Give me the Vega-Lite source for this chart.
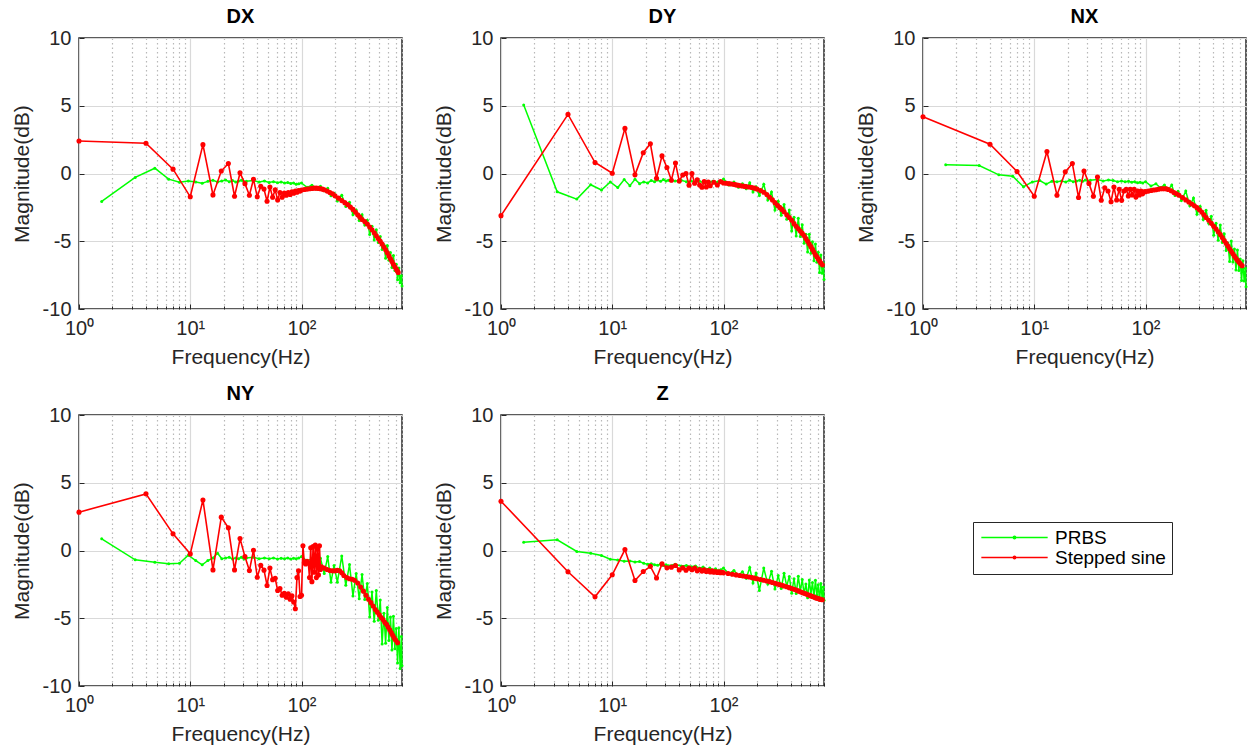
{
"$schema": "https://vega.github.io/schema/vega-lite/v6.json",
"padding": {"left": 10, "top": 6, "right": 0, "bottom": 0},
"background": "white",
"data": {"values": [
{"p":"DX","s":"PRBS","f":1.6,"m":-2.06},{"p":"DX","s":"PRBS","f":3.2,"m":-0.29},{"p":"DX","s":"PRBS","f":4.8,"m":0.39},{"p":"DX","s":"PRBS","f":6.4,"m":-0.42},{"p":"DX","s":"PRBS","f":8,"m":-0.65},{"p":"DX","s":"PRBS","f":9.6,"m":-0.55},{"p":"DX","s":"PRBS","f":11.2,"m":-0.62},{"p":"DX","s":"PRBS","f":12.8,"m":-0.72},{"p":"DX","s":"PRBS","f":14.4,"m":-0.58},{"p":"DX","s":"PRBS","f":16,"m":-0.5},{"p":"DX","s":"PRBS","f":17.6,"m":-0.62},{"p":"DX","s":"PRBS","f":19.2,"m":-0.55},{"p":"DX","s":"PRBS","f":20.8,"m":-0.48},{"p":"DX","s":"PRBS","f":22.4,"m":-0.6},{"p":"DX","s":"PRBS","f":24,"m":-0.52},{"p":"DX","s":"PRBS","f":25.6,"m":-0.63},{"p":"DX","s":"PRBS","f":27.2,"m":-0.55},{"p":"DX","s":"PRBS","f":28.8,"m":-0.5},{"p":"DX","s":"PRBS","f":30.4,"m":-0.6},{"p":"DX","s":"PRBS","f":32,"m":-0.58},{"p":"DX","s":"PRBS","f":36.8,"m":-0.52},{"p":"DX","s":"PRBS","f":41.6,"m":-0.62},{"p":"DX","s":"PRBS","f":46.4,"m":-0.56},{"p":"DX","s":"PRBS","f":51.2,"m":-0.66},{"p":"DX","s":"PRBS","f":56,"m":-0.6},{"p":"DX","s":"PRBS","f":60.8,"m":-0.68},{"p":"DX","s":"PRBS","f":65.6,"m":-0.62},{"p":"DX","s":"PRBS","f":70.4,"m":-0.7},{"p":"DX","s":"PRBS","f":75.2,"m":-0.66},{"p":"DX","s":"PRBS","f":80,"m":-0.74},{"p":"DX","s":"PRBS","f":84.8,"m":-0.7},{"p":"DX","s":"PRBS","f":89.6,"m":-0.8},{"p":"DX","s":"PRBS","f":94.4,"m":-0.76},
{"p":"DX","s":"PRBS","f":100,"m":-0.7},{"p":"DX","s":"PRBS","f":112,"m":-1.02},{"p":"DX","s":"PRBS","f":124,"m":-0.86},{"p":"DX","s":"PRBS","f":136,"m":-1.15},{"p":"DX","s":"PRBS","f":148,"m":-0.95},{"p":"DX","s":"PRBS","f":160,"m":-1.28},{"p":"DX","s":"PRBS","f":172,"m":-1.08},{"p":"DX","s":"PRBS","f":184,"m":-1.65},{"p":"DX","s":"PRBS","f":196,"m":-1.45},{"p":"DX","s":"PRBS","f":210,"m":-2.03},{"p":"DX","s":"PRBS","f":230,"m":-1.6},{"p":"DX","s":"PRBS","f":250,"m":-2.44},{"p":"DX","s":"PRBS","f":270,"m":-2.13},{"p":"DX","s":"PRBS","f":290,"m":-3.05},{"p":"DX","s":"PRBS","f":310,"m":-2.7},{"p":"DX","s":"PRBS","f":330,"m":-3.47},{"p":"DX","s":"PRBS","f":350,"m":-3.04},{"p":"DX","s":"PRBS","f":370,"m":-3.8},{"p":"DX","s":"PRBS","f":390,"m":-3.45},{"p":"DX","s":"PRBS","f":410,"m":-4.5},{"p":"DX","s":"PRBS","f":430,"m":-3.9},{"p":"DX","s":"PRBS","f":450,"m":-4.9},{"p":"DX","s":"PRBS","f":470,"m":-4.15},{"p":"DX","s":"PRBS","f":490,"m":-5.1},{"p":"DX","s":"PRBS","f":510,"m":-4.65},{"p":"DX","s":"PRBS","f":530,"m":-5.6},{"p":"DX","s":"PRBS","f":550,"m":-5.25},{"p":"DX","s":"PRBS","f":570,"m":-6.25},{"p":"DX","s":"PRBS","f":590,"m":-5.31},{"p":"DX","s":"PRBS","f":610,"m":-6.41},{"p":"DX","s":"PRBS","f":630,"m":-5.83},{"p":"DX","s":"PRBS","f":650,"m":-6.93},{"p":"DX","s":"PRBS","f":670,"m":-6.05},{"p":"DX","s":"PRBS","f":690,"m":-7.15},{"p":"DX","s":"PRBS","f":710,"m":-6.69},{"p":"DX","s":"PRBS","f":730,"m":-7.85},{"p":"DX","s":"PRBS","f":750,"m":-6.97},{"p":"DX","s":"PRBS","f":770,"m":-8.07},{"p":"DX","s":"PRBS","f":790,"m":-7.55},{"p":"DX","s":"PRBS","f":800,"m":-8.3},
{"p":"DY","s":"PRBS","f":1.6,"m":5.05},{"p":"DY","s":"PRBS","f":3.2,"m":-1.35},{"p":"DY","s":"PRBS","f":4.8,"m":-1.89},{"p":"DY","s":"PRBS","f":6.4,"m":-0.83},{"p":"DY","s":"PRBS","f":8,"m":-1.22},{"p":"DY","s":"PRBS","f":9.6,"m":-0.62},{"p":"DY","s":"PRBS","f":11.2,"m":-1.04},{"p":"DY","s":"PRBS","f":12.8,"m":-0.45},{"p":"DY","s":"PRBS","f":14.4,"m":-0.9},{"p":"DY","s":"PRBS","f":16,"m":-0.43},{"p":"DY","s":"PRBS","f":17.6,"m":-0.75},{"p":"DY","s":"PRBS","f":19.2,"m":-0.62},{"p":"DY","s":"PRBS","f":20.8,"m":-0.7},{"p":"DY","s":"PRBS","f":22.4,"m":-0.52},{"p":"DY","s":"PRBS","f":24,"m":-0.6},{"p":"DY","s":"PRBS","f":25.6,"m":-0.48},{"p":"DY","s":"PRBS","f":27.2,"m":-0.58},{"p":"DY","s":"PRBS","f":28.8,"m":-0.45},{"p":"DY","s":"PRBS","f":30.4,"m":-0.55},{"p":"DY","s":"PRBS","f":32,"m":-0.5},{"p":"DY","s":"PRBS","f":36.8,"m":-0.55},{"p":"DY","s":"PRBS","f":41.6,"m":-0.5},{"p":"DY","s":"PRBS","f":46.4,"m":-0.6},{"p":"DY","s":"PRBS","f":51.2,"m":-0.55},{"p":"DY","s":"PRBS","f":56,"m":-0.62},{"p":"DY","s":"PRBS","f":60.8,"m":-0.58},{"p":"DY","s":"PRBS","f":65.6,"m":-0.66},{"p":"DY","s":"PRBS","f":70.4,"m":-0.6},{"p":"DY","s":"PRBS","f":75.2,"m":-0.65},{"p":"DY","s":"PRBS","f":80,"m":-0.58},{"p":"DY","s":"PRBS","f":84.8,"m":-0.66},{"p":"DY","s":"PRBS","f":89.6,"m":-0.6},{"p":"DY","s":"PRBS","f":94.4,"m":-0.65},
{"p":"DY","s":"PRBS","f":100,"m":-0.4},{"p":"DY","s":"PRBS","f":112,"m":-0.84},{"p":"DY","s":"PRBS","f":124,"m":-0.63},{"p":"DY","s":"PRBS","f":136,"m":-1.02},{"p":"DY","s":"PRBS","f":148,"m":-0.76},{"p":"DY","s":"PRBS","f":160,"m":-1.13},{"p":"DY","s":"PRBS","f":172,"m":-0.69},{"p":"DY","s":"PRBS","f":184,"m":-1.37},{"p":"DY","s":"PRBS","f":196,"m":-0.98},{"p":"DY","s":"PRBS","f":210,"m":-1.62},{"p":"DY","s":"PRBS","f":230,"m":-0.8},{"p":"DY","s":"PRBS","f":250,"m":-1.96},{"p":"DY","s":"PRBS","f":270,"m":-1.37},{"p":"DY","s":"PRBS","f":290,"m":-2.7},{"p":"DY","s":"PRBS","f":310,"m":-2.05},{"p":"DY","s":"PRBS","f":330,"m":-3.08},{"p":"DY","s":"PRBS","f":350,"m":-2.28},{"p":"DY","s":"PRBS","f":370,"m":-3.37},{"p":"DY","s":"PRBS","f":390,"m":-2.69},{"p":"DY","s":"PRBS","f":410,"m":-4.25},{"p":"DY","s":"PRBS","f":430,"m":-3.22},{"p":"DY","s":"PRBS","f":450,"m":-4.62},{"p":"DY","s":"PRBS","f":470,"m":-3.3},{"p":"DY","s":"PRBS","f":490,"m":-4.65},{"p":"DY","s":"PRBS","f":510,"m":-3.78},{"p":"DY","s":"PRBS","f":530,"m":-5.14},{"p":"DY","s":"PRBS","f":550,"m":-4.48},{"p":"DY","s":"PRBS","f":570,"m":-5.8},{"p":"DY","s":"PRBS","f":590,"m":-4.48},{"p":"DY","s":"PRBS","f":610,"m":-5.88},{"p":"DY","s":"PRBS","f":630,"m":-5.04},{"p":"DY","s":"PRBS","f":650,"m":-6.44},{"p":"DY","s":"PRBS","f":670,"m":-5.2},{"p":"DY","s":"PRBS","f":690,"m":-6.55},{"p":"DY","s":"PRBS","f":710,"m":-5.82},{"p":"DY","s":"PRBS","f":730,"m":-7.3},{"p":"DY","s":"PRBS","f":750,"m":-6.01},{"p":"DY","s":"PRBS","f":770,"m":-7.36},{"p":"DY","s":"PRBS","f":790,"m":-6.6},{"p":"DY","s":"PRBS","f":800,"m":-7.82},
{"p":"NX","s":"PRBS","f":1.6,"m":0.64},{"p":"NX","s":"PRBS","f":3.2,"m":0.59},{"p":"NX","s":"PRBS","f":4.8,"m":-0.1},{"p":"NX","s":"PRBS","f":6.4,"m":-0.2},{"p":"NX","s":"PRBS","f":8,"m":-0.98},{"p":"NX","s":"PRBS","f":9.6,"m":-0.62},{"p":"NX","s":"PRBS","f":11.2,"m":-0.52},{"p":"NX","s":"PRBS","f":12.8,"m":-0.78},{"p":"NX","s":"PRBS","f":14.4,"m":-0.58},{"p":"NX","s":"PRBS","f":16,"m":-0.6},{"p":"NX","s":"PRBS","f":17.6,"m":-0.55},{"p":"NX","s":"PRBS","f":19.2,"m":-0.62},{"p":"NX","s":"PRBS","f":20.8,"m":-0.5},{"p":"NX","s":"PRBS","f":22.4,"m":-0.6},{"p":"NX","s":"PRBS","f":24,"m":-0.55},{"p":"NX","s":"PRBS","f":25.6,"m":-0.5},{"p":"NX","s":"PRBS","f":27.2,"m":-0.58},{"p":"NX","s":"PRBS","f":28.8,"m":-0.48},{"p":"NX","s":"PRBS","f":30.4,"m":-0.55},{"p":"NX","s":"PRBS","f":32,"m":-0.5},{"p":"NX","s":"PRBS","f":36.8,"m":-0.45},{"p":"NX","s":"PRBS","f":41.6,"m":-0.55},{"p":"NX","s":"PRBS","f":46.4,"m":-0.48},{"p":"NX","s":"PRBS","f":51.2,"m":-0.52},{"p":"NX","s":"PRBS","f":56,"m":-0.6},{"p":"NX","s":"PRBS","f":60.8,"m":-0.55},{"p":"NX","s":"PRBS","f":65.6,"m":-0.6},{"p":"NX","s":"PRBS","f":70.4,"m":-0.58},{"p":"NX","s":"PRBS","f":75.2,"m":-0.65},{"p":"NX","s":"PRBS","f":80,"m":-0.6},{"p":"NX","s":"PRBS","f":84.8,"m":-0.68},{"p":"NX","s":"PRBS","f":89.6,"m":-0.64},{"p":"NX","s":"PRBS","f":94.4,"m":-0.7},
{"p":"NX","s":"PRBS","f":100,"m":-0.6},{"p":"NX","s":"PRBS","f":112,"m":-0.92},{"p":"NX","s":"PRBS","f":124,"m":-0.76},{"p":"NX","s":"PRBS","f":136,"m":-1.05},{"p":"NX","s":"PRBS","f":148,"m":-0.85},{"p":"NX","s":"PRBS","f":160,"m":-1.23},{"p":"NX","s":"PRBS","f":172,"m":-0.84},{"p":"NX","s":"PRBS","f":184,"m":-1.62},{"p":"NX","s":"PRBS","f":196,"m":-1.31},{"p":"NX","s":"PRBS","f":210,"m":-1.99},{"p":"NX","s":"PRBS","f":230,"m":-1.3},{"p":"NX","s":"PRBS","f":250,"m":-2.38},{"p":"NX","s":"PRBS","f":270,"m":-1.81},{"p":"NX","s":"PRBS","f":290,"m":-3.0},{"p":"NX","s":"PRBS","f":310,"m":-2.43},{"p":"NX","s":"PRBS","f":330,"m":-3.39},{"p":"NX","s":"PRBS","f":350,"m":-2.71},{"p":"NX","s":"PRBS","f":370,"m":-3.68},{"p":"NX","s":"PRBS","f":390,"m":-3.16},{"p":"NX","s":"PRBS","f":410,"m":-4.55},{"p":"NX","s":"PRBS","f":430,"m":-3.68},{"p":"NX","s":"PRBS","f":450,"m":-4.93},{"p":"NX","s":"PRBS","f":470,"m":-3.8},{"p":"NX","s":"PRBS","f":490,"m":-5.1},{"p":"NX","s":"PRBS","f":510,"m":-4.44},{"p":"NX","s":"PRBS","f":530,"m":-5.69},{"p":"NX","s":"PRBS","f":550,"m":-5.12},{"p":"NX","s":"PRBS","f":570,"m":-6.5},{"p":"NX","s":"PRBS","f":590,"m":-4.99},{"p":"NX","s":"PRBS","f":610,"m":-6.54},{"p":"NX","s":"PRBS","f":630,"m":-5.57},{"p":"NX","s":"PRBS","f":650,"m":-7.12},{"p":"NX","s":"PRBS","f":670,"m":-5.65},{"p":"NX","s":"PRBS","f":690,"m":-7.15},{"p":"NX","s":"PRBS","f":710,"m":-6.31},{"p":"NX","s":"PRBS","f":730,"m":-7.9},{"p":"NX","s":"PRBS","f":750,"m":-6.43},{"p":"NX","s":"PRBS","f":770,"m":-7.93},{"p":"NX","s":"PRBS","f":790,"m":-7.0},{"p":"NX","s":"PRBS","f":800,"m":-8.36},
{"p":"NY","s":"PRBS","f":1.6,"m":0.86},{"p":"NY","s":"PRBS","f":3.2,"m":-0.69},{"p":"NY","s":"PRBS","f":4.8,"m":-0.86},{"p":"NY","s":"PRBS","f":6.4,"m":-0.98},{"p":"NY","s":"PRBS","f":8,"m":-0.95},{"p":"NY","s":"PRBS","f":9.6,"m":-0.35},{"p":"NY","s":"PRBS","f":11.2,"m":-0.74},{"p":"NY","s":"PRBS","f":12.8,"m":-1.06},{"p":"NY","s":"PRBS","f":14.4,"m":-0.74},{"p":"NY","s":"PRBS","f":16,"m":-0.55},{"p":"NY","s":"PRBS","f":17.6,"m":-0.2},{"p":"NY","s":"PRBS","f":19.2,"m":-0.6},{"p":"NY","s":"PRBS","f":20.8,"m":-0.55},{"p":"NY","s":"PRBS","f":22.4,"m":-0.5},{"p":"NY","s":"PRBS","f":24,"m":-0.62},{"p":"NY","s":"PRBS","f":25.6,"m":-0.55},{"p":"NY","s":"PRBS","f":27.2,"m":-0.6},{"p":"NY","s":"PRBS","f":28.8,"m":-0.5},{"p":"NY","s":"PRBS","f":30.4,"m":-0.62},{"p":"NY","s":"PRBS","f":32,"m":-0.55},{"p":"NY","s":"PRBS","f":36.8,"m":-0.5},{"p":"NY","s":"PRBS","f":41.6,"m":-0.6},{"p":"NY","s":"PRBS","f":46.4,"m":-0.55},{"p":"NY","s":"PRBS","f":51.2,"m":-0.6},{"p":"NY","s":"PRBS","f":56,"m":-0.55},{"p":"NY","s":"PRBS","f":60.8,"m":-0.62},{"p":"NY","s":"PRBS","f":65.6,"m":-0.58},{"p":"NY","s":"PRBS","f":70.4,"m":-0.6},{"p":"NY","s":"PRBS","f":75.2,"m":-0.56},{"p":"NY","s":"PRBS","f":80,"m":-0.62},{"p":"NY","s":"PRBS","f":84.8,"m":-0.58},{"p":"NY","s":"PRBS","f":89.6,"m":-0.6},{"p":"NY","s":"PRBS","f":94.4,"m":-0.56},
{"p":"NY","s":"PRBS","f":100,"m":-0.45},{"p":"NY","s":"PRBS","f":112,"m":-0.77},{"p":"NY","s":"PRBS","f":124,"m":-0.61},{"p":"NY","s":"PRBS","f":136,"m":-0.95},{"p":"NY","s":"PRBS","f":148,"m":-0.58},{"p":"NY","s":"PRBS","f":160,"m":-1.7},{"p":"NY","s":"PRBS","f":172,"m":-0.45},{"p":"NY","s":"PRBS","f":184,"m":-2.35},{"p":"NY","s":"PRBS","f":196,"m":-1.1},{"p":"NY","s":"PRBS","f":210,"m":-2.34},{"p":"NY","s":"PRBS","f":230,"m":-0.4},{"p":"NY","s":"PRBS","f":250,"m":-2.57},{"p":"NY","s":"PRBS","f":270,"m":-1.04},{"p":"NY","s":"PRBS","f":290,"m":-3.35},{"p":"NY","s":"PRBS","f":310,"m":-1.7},{"p":"NY","s":"PRBS","f":330,"m":-3.56},{"p":"NY","s":"PRBS","f":350,"m":-1.77},{"p":"NY","s":"PRBS","f":370,"m":-3.62},{"p":"NY","s":"PRBS","f":390,"m":-2.44},{"p":"NY","s":"PRBS","f":410,"m":-4.9},{"p":"NY","s":"PRBS","f":430,"m":-3.07},{"p":"NY","s":"PRBS","f":450,"m":-5.22},{"p":"NY","s":"PRBS","f":470,"m":-2.95},{"p":"NY","s":"PRBS","f":490,"m":-5.15},{"p":"NY","s":"PRBS","f":510,"m":-3.66},{"p":"NY","s":"PRBS","f":530,"m":-6.9},{"p":"NY","s":"PRBS","f":550,"m":-4.63},{"p":"NY","s":"PRBS","f":570,"m":-6.85},{"p":"NY","s":"PRBS","f":590,"m":-4.2},{"p":"NY","s":"PRBS","f":610,"m":-6.65},{"p":"NY","s":"PRBS","f":630,"m":-4.9},{"p":"NY","s":"PRBS","f":650,"m":-7.35},{"p":"NY","s":"PRBS","f":670,"m":-4.85},{"p":"NY","s":"PRBS","f":690,"m":-7.25},{"p":"NY","s":"PRBS","f":710,"m":-5.75},{"p":"NY","s":"PRBS","f":730,"m":-8.3},{"p":"NY","s":"PRBS","f":750,"m":-5.7},{"p":"NY","s":"PRBS","f":770,"m":-8.7},{"p":"NY","s":"PRBS","f":790,"m":-6.35},{"p":"NY","s":"PRBS","f":800,"m":-8.5},
{"p":"Z","s":"PRBS","f":1.6,"m":0.61},{"p":"Z","s":"PRBS","f":3.2,"m":0.79},{"p":"Z","s":"PRBS","f":4.8,"m":-0.07},{"p":"Z","s":"PRBS","f":6.4,"m":-0.2},{"p":"Z","s":"PRBS","f":8,"m":-0.37},{"p":"Z","s":"PRBS","f":9.6,"m":-0.64},{"p":"Z","s":"PRBS","f":11.2,"m":-0.7},{"p":"Z","s":"PRBS","f":12.8,"m":-0.8},{"p":"Z","s":"PRBS","f":14.4,"m":-0.78},{"p":"Z","s":"PRBS","f":16,"m":-0.85},{"p":"Z","s":"PRBS","f":17.6,"m":-0.82},{"p":"Z","s":"PRBS","f":19.2,"m":-0.95},{"p":"Z","s":"PRBS","f":20.8,"m":-1.02},{"p":"Z","s":"PRBS","f":22.4,"m":-0.98},{"p":"Z","s":"PRBS","f":24,"m":-1.05},{"p":"Z","s":"PRBS","f":25.6,"m":-1.08},{"p":"Z","s":"PRBS","f":27.2,"m":-1.0},{"p":"Z","s":"PRBS","f":28.8,"m":-1.1},{"p":"Z","s":"PRBS","f":30.4,"m":-1.05},{"p":"Z","s":"PRBS","f":32,"m":-1.12},{"p":"Z","s":"PRBS","f":36.8,"m":-1.02},{"p":"Z","s":"PRBS","f":41.6,"m":-1.15},{"p":"Z","s":"PRBS","f":46.4,"m":-1.1},{"p":"Z","s":"PRBS","f":51.2,"m":-1.2},{"p":"Z","s":"PRBS","f":56,"m":-1.15},{"p":"Z","s":"PRBS","f":60.8,"m":-1.3},{"p":"Z","s":"PRBS","f":65.6,"m":-1.22},{"p":"Z","s":"PRBS","f":70.4,"m":-1.38},{"p":"Z","s":"PRBS","f":75.2,"m":-1.3},{"p":"Z","s":"PRBS","f":80,"m":-1.45},{"p":"Z","s":"PRBS","f":84.8,"m":-1.35},{"p":"Z","s":"PRBS","f":89.6,"m":-1.5},{"p":"Z","s":"PRBS","f":94.4,"m":-1.42},
{"p":"Z","s":"PRBS","f":100,"m":-1.3},{"p":"Z","s":"PRBS","f":112,"m":-1.71},{"p":"Z","s":"PRBS","f":124,"m":-1.48},{"p":"Z","s":"PRBS","f":136,"m":-1.85},{"p":"Z","s":"PRBS","f":148,"m":-1.56},{"p":"Z","s":"PRBS","f":160,"m":-2.05},{"p":"Z","s":"PRBS","f":172,"m":-1.26},{"p":"Z","s":"PRBS","f":184,"m":-2.39},{"p":"Z","s":"PRBS","f":196,"m":-1.66},{"p":"Z","s":"PRBS","f":210,"m":-2.95},{"p":"Z","s":"PRBS","f":230,"m":-1.3},{"p":"Z","s":"PRBS","f":250,"m":-2.47},{"p":"Z","s":"PRBS","f":270,"m":-1.54},{"p":"Z","s":"PRBS","f":290,"m":-2.85},{"p":"Z","s":"PRBS","f":310,"m":-1.85},{"p":"Z","s":"PRBS","f":330,"m":-2.81},{"p":"Z","s":"PRBS","f":350,"m":-1.67},{"p":"Z","s":"PRBS","f":370,"m":-2.63},{"p":"Z","s":"PRBS","f":390,"m":-1.91},{"p":"Z","s":"PRBS","f":410,"m":-3.15},{"p":"Z","s":"PRBS","f":430,"m":-2.08},{"p":"Z","s":"PRBS","f":450,"m":-3.18},{"p":"Z","s":"PRBS","f":470,"m":-1.9},{"p":"Z","s":"PRBS","f":490,"m":-3.0},{"p":"Z","s":"PRBS","f":510,"m":-2.14},{"p":"Z","s":"PRBS","f":530,"m":-3.21},{"p":"Z","s":"PRBS","f":550,"m":-2.47},{"p":"Z","s":"PRBS","f":570,"m":-3.48},{"p":"Z","s":"PRBS","f":590,"m":-2.17},{"p":"Z","s":"PRBS","f":610,"m":-3.24},{"p":"Z","s":"PRBS","f":630,"m":-2.36},{"p":"Z","s":"PRBS","f":650,"m":-3.44},{"p":"Z","s":"PRBS","f":670,"m":-2.2},{"p":"Z","s":"PRBS","f":690,"m":-3.27},{"p":"Z","s":"PRBS","f":710,"m":-2.53},{"p":"Z","s":"PRBS","f":730,"m":-3.68},{"p":"Z","s":"PRBS","f":750,"m":-2.44},{"p":"Z","s":"PRBS","f":770,"m":-3.51},{"p":"Z","s":"PRBS","f":790,"m":-2.7},{"p":"Z","s":"PRBS","f":800,"m":-3.68},
{"p":"DX","s":"Stepped sine","f":1,"m":2.4},{"p":"DX","s":"Stepped sine","f":4,"m":2.23},{"p":"DX","s":"Stepped sine","f":7,"m":0.32},{"p":"DX","s":"Stepped sine","f":10,"m":-1.72},{"p":"DX","s":"Stepped sine","f":13,"m":2.13},{"p":"DX","s":"Stepped sine","f":16,"m":-1.58},{"p":"DX","s":"Stepped sine","f":19,"m":0.18},{"p":"DX","s":"Stepped sine","f":22,"m":0.74},{"p":"DX","s":"Stepped sine","f":25,"m":-1.68},{"p":"DX","s":"Stepped sine","f":28,"m":0.05},{"p":"DX","s":"Stepped sine","f":31,"m":-0.75},{"p":"DX","s":"Stepped sine","f":34,"m":-1.6},{"p":"DX","s":"Stepped sine","f":37,"m":-0.42},{"p":"DX","s":"Stepped sine","f":40,"m":-1.72},{"p":"DX","s":"Stepped sine","f":43,"m":-0.95},{"p":"DX","s":"Stepped sine","f":46,"m":-1.15},{"p":"DX","s":"Stepped sine","f":49,"m":-2.05},{"p":"DX","s":"Stepped sine","f":52,"m":-1.0},{"p":"DX","s":"Stepped sine","f":55,"m":-1.75},{"p":"DX","s":"Stepped sine","f":58,"m":-1.2},{"p":"DX","s":"Stepped sine","f":61,"m":-1.95},{"p":"DX","s":"Stepped sine","f":64,"m":-1.4},{"p":"DX","s":"Stepped sine","f":67,"m":-1.75},{"p":"DX","s":"Stepped sine","f":70,"m":-1.45},{"p":"DX","s":"Stepped sine","f":73,"m":-1.6},{"p":"DX","s":"Stepped sine","f":76,"m":-1.4},{"p":"DX","s":"Stepped sine","f":79,"m":-1.55},{"p":"DX","s":"Stepped sine","f":82,"m":-1.35},{"p":"DX","s":"Stepped sine","f":85,"m":-1.45},{"p":"DX","s":"Stepped sine","f":88,"m":-1.3},{"p":"DX","s":"Stepped sine","f":91,"m":-1.38},{"p":"DX","s":"Stepped sine","f":94,"m":-1.25},{"p":"DX","s":"Stepped sine","f":97,"m":-1.3},{"p":"DX","s":"Stepped sine","f":100,"m":-1.22},{"p":"DX","s":"Stepped sine","f":106,"m":-1.18},{"p":"DX","s":"Stepped sine","f":112,"m":-1.15},{"p":"DX","s":"Stepped sine","f":118,"m":-1.12},{"p":"DX","s":"Stepped sine","f":124,"m":-1.1},{"p":"DX","s":"Stepped sine","f":130,"m":-1.08},{"p":"DX","s":"Stepped sine","f":136,"m":-1.08},{"p":"DX","s":"Stepped sine","f":142,"m":-1.1},{"p":"DX","s":"Stepped sine","f":148,"m":-1.12},{"p":"DX","s":"Stepped sine","f":154,"m":-1.15},{"p":"DX","s":"Stepped sine","f":160,"m":-1.2},{"p":"DX","s":"Stepped sine","f":170,"m":-1.3},{"p":"DX","s":"Stepped sine","f":180,"m":-1.4},{"p":"DX","s":"Stepped sine","f":190,"m":-1.5},{"p":"DX","s":"Stepped sine","f":200,"m":-1.65},{"p":"DX","s":"Stepped sine","f":215,"m":-1.82},{"p":"DX","s":"Stepped sine","f":230,"m":-2.0},{"p":"DX","s":"Stepped sine","f":245,"m":-2.15},{"p":"DX","s":"Stepped sine","f":260,"m":-2.3},{"p":"DX","s":"Stepped sine","f":275,"m":-2.48},{"p":"DX","s":"Stepped sine","f":290,"m":-2.65},{"p":"DX","s":"Stepped sine","f":305,"m":-2.85},{"p":"DX","s":"Stepped sine","f":320,"m":-3.05},{"p":"DX","s":"Stepped sine","f":335,"m":-3.22},{"p":"DX","s":"Stepped sine","f":350,"m":-3.4},{"p":"DX","s":"Stepped sine","f":370,"m":-3.55},{"p":"DX","s":"Stepped sine","f":390,"m":-3.73},{"p":"DX","s":"Stepped sine","f":410,"m":-3.95},{"p":"DX","s":"Stepped sine","f":430,"m":-4.15},{"p":"DX","s":"Stepped sine","f":450,"m":-4.38},{"p":"DX","s":"Stepped sine","f":470,"m":-4.6},{"p":"DX","s":"Stepped sine","f":490,"m":-4.8},{"p":"DX","s":"Stepped sine","f":510,"m":-5.0},{"p":"DX","s":"Stepped sine","f":530,"m":-5.2},{"p":"DX","s":"Stepped sine","f":550,"m":-5.42},{"p":"DX","s":"Stepped sine","f":570,"m":-5.63},{"p":"DX","s":"Stepped sine","f":590,"m":-5.85},{"p":"DX","s":"Stepped sine","f":610,"m":-6.08},{"p":"DX","s":"Stepped sine","f":630,"m":-6.3},{"p":"DX","s":"Stepped sine","f":650,"m":-6.5},{"p":"DX","s":"Stepped sine","f":670,"m":-6.7},{"p":"DX","s":"Stepped sine","f":690,"m":-6.88},{"p":"DX","s":"Stepped sine","f":710,"m":-7.05},{"p":"DX","s":"Stepped sine","f":725,"m":-7.18},{"p":"DX","s":"Stepped sine","f":740,"m":-7.3},
{"p":"DY","s":"Stepped sine","f":1,"m":-3.11},{"p":"DY","s":"Stepped sine","f":4,"m":4.36},{"p":"DY","s":"Stepped sine","f":7,"m":0.81},{"p":"DY","s":"Stepped sine","f":10,"m":0.02},{"p":"DY","s":"Stepped sine","f":13,"m":3.33},{"p":"DY","s":"Stepped sine","f":16,"m":-0.1},{"p":"DY","s":"Stepped sine","f":19,"m":1.53},{"p":"DY","s":"Stepped sine","f":22,"m":2.2},{"p":"DY","s":"Stepped sine","f":25,"m":-0.35},{"p":"DY","s":"Stepped sine","f":28,"m":1.3},{"p":"DY","s":"Stepped sine","f":31,"m":0.44},{"p":"DY","s":"Stepped sine","f":34,"m":-0.5},{"p":"DY","s":"Stepped sine","f":37,"m":0.77},{"p":"DY","s":"Stepped sine","f":40,"m":-0.55},{"p":"DY","s":"Stepped sine","f":43,"m":-0.11},{"p":"DY","s":"Stepped sine","f":46,"m":0.0},{"p":"DY","s":"Stepped sine","f":49,"m":-0.86},{"p":"DY","s":"Stepped sine","f":52,"m":0.0},{"p":"DY","s":"Stepped sine","f":55,"m":-0.72},{"p":"DY","s":"Stepped sine","f":58,"m":-0.47},{"p":"DY","s":"Stepped sine","f":61,"m":-0.85},{"p":"DY","s":"Stepped sine","f":64,"m":-1.02},{"p":"DY","s":"Stepped sine","f":67,"m":-0.6},{"p":"DY","s":"Stepped sine","f":70,"m":-1.0},{"p":"DY","s":"Stepped sine","f":73,"m":-0.63},{"p":"DY","s":"Stepped sine","f":76,"m":-0.9},{"p":"DY","s":"Stepped sine","f":82,"m":-0.65},{"p":"DY","s":"Stepped sine","f":88,"m":-0.85},{"p":"DY","s":"Stepped sine","f":94,"m":-0.6},{"p":"DY","s":"Stepped sine","f":100,"m":-0.7},{"p":"DY","s":"Stepped sine","f":106,"m":-0.72},{"p":"DY","s":"Stepped sine","f":112,"m":-0.75},{"p":"DY","s":"Stepped sine","f":118,"m":-0.78},{"p":"DY","s":"Stepped sine","f":124,"m":-0.8},{"p":"DY","s":"Stepped sine","f":130,"m":-0.84},{"p":"DY","s":"Stepped sine","f":136,"m":-0.87},{"p":"DY","s":"Stepped sine","f":142,"m":-0.9},{"p":"DY","s":"Stepped sine","f":148,"m":-0.92},{"p":"DY","s":"Stepped sine","f":154,"m":-0.95},{"p":"DY","s":"Stepped sine","f":160,"m":-0.97},{"p":"DY","s":"Stepped sine","f":170,"m":-1.0},{"p":"DY","s":"Stepped sine","f":180,"m":-1.03},{"p":"DY","s":"Stepped sine","f":190,"m":-1.08},{"p":"DY","s":"Stepped sine","f":200,"m":-1.15},{"p":"DY","s":"Stepped sine","f":215,"m":-1.25},{"p":"DY","s":"Stepped sine","f":230,"m":-1.38},{"p":"DY","s":"Stepped sine","f":245,"m":-1.55},{"p":"DY","s":"Stepped sine","f":260,"m":-1.75},{"p":"DY","s":"Stepped sine","f":275,"m":-1.95},{"p":"DY","s":"Stepped sine","f":290,"m":-2.15},{"p":"DY","s":"Stepped sine","f":305,"m":-2.35},{"p":"DY","s":"Stepped sine","f":320,"m":-2.5},{"p":"DY","s":"Stepped sine","f":335,"m":-2.65},{"p":"DY","s":"Stepped sine","f":350,"m":-2.82},{"p":"DY","s":"Stepped sine","f":370,"m":-3.05},{"p":"DY","s":"Stepped sine","f":390,"m":-3.25},{"p":"DY","s":"Stepped sine","f":410,"m":-3.45},{"p":"DY","s":"Stepped sine","f":430,"m":-3.7},{"p":"DY","s":"Stepped sine","f":450,"m":-3.9},{"p":"DY","s":"Stepped sine","f":470,"m":-4.08},{"p":"DY","s":"Stepped sine","f":490,"m":-4.25},{"p":"DY","s":"Stepped sine","f":510,"m":-4.42},{"p":"DY","s":"Stepped sine","f":530,"m":-4.58},{"p":"DY","s":"Stepped sine","f":550,"m":-4.8},{"p":"DY","s":"Stepped sine","f":570,"m":-5.0},{"p":"DY","s":"Stepped sine","f":590,"m":-5.2},{"p":"DY","s":"Stepped sine","f":610,"m":-5.4},{"p":"DY","s":"Stepped sine","f":630,"m":-5.6},{"p":"DY","s":"Stepped sine","f":650,"m":-5.8},{"p":"DY","s":"Stepped sine","f":670,"m":-6.0},{"p":"DY","s":"Stepped sine","f":690,"m":-6.15},{"p":"DY","s":"Stepped sine","f":710,"m":-6.3},{"p":"DY","s":"Stepped sine","f":730,"m":-6.45},{"p":"DY","s":"Stepped sine","f":750,"m":-6.6},{"p":"DY","s":"Stepped sine","f":774,"m":-6.74},
{"p":"NX","s":"Stepped sine","f":1,"m":4.19},{"p":"NX","s":"Stepped sine","f":4,"m":2.16},{"p":"NX","s":"Stepped sine","f":7,"m":0.15},{"p":"NX","s":"Stepped sine","f":10,"m":-1.68},{"p":"NX","s":"Stepped sine","f":13,"m":1.62},{"p":"NX","s":"Stepped sine","f":16,"m":-1.6},{"p":"NX","s":"Stepped sine","f":19,"m":0.12},{"p":"NX","s":"Stepped sine","f":22,"m":0.74},{"p":"NX","s":"Stepped sine","f":25,"m":-1.77},{"p":"NX","s":"Stepped sine","f":28,"m":0.19},{"p":"NX","s":"Stepped sine","f":31,"m":-0.73},{"p":"NX","s":"Stepped sine","f":34,"m":-1.68},{"p":"NX","s":"Stepped sine","f":37,"m":-0.26},{"p":"NX","s":"Stepped sine","f":40,"m":-1.97},{"p":"NX","s":"Stepped sine","f":43,"m":-1.05},{"p":"NX","s":"Stepped sine","f":46,"m":-1.29},{"p":"NX","s":"Stepped sine","f":49,"m":-2.08},{"p":"NX","s":"Stepped sine","f":52,"m":-1.0},{"p":"NX","s":"Stepped sine","f":55,"m":-1.96},{"p":"NX","s":"Stepped sine","f":58,"m":-1.17},{"p":"NX","s":"Stepped sine","f":61,"m":-1.98},{"p":"NX","s":"Stepped sine","f":64,"m":-1.29},{"p":"NX","s":"Stepped sine","f":67,"m":-1.17},{"p":"NX","s":"Stepped sine","f":70,"m":-1.66},{"p":"NX","s":"Stepped sine","f":73,"m":-1.17},{"p":"NX","s":"Stepped sine","f":76,"m":-1.59},{"p":"NX","s":"Stepped sine","f":79,"m":-1.17},{"p":"NX","s":"Stepped sine","f":82,"m":-1.74},{"p":"NX","s":"Stepped sine","f":85,"m":-1.29},{"p":"NX","s":"Stepped sine","f":88,"m":-1.59},{"p":"NX","s":"Stepped sine","f":91,"m":-1.29},{"p":"NX","s":"Stepped sine","f":94,"m":-1.5},{"p":"NX","s":"Stepped sine","f":97,"m":-1.35},{"p":"NX","s":"Stepped sine","f":100,"m":-1.34},{"p":"NX","s":"Stepped sine","f":106,"m":-1.3},{"p":"NX","s":"Stepped sine","f":112,"m":-1.25},{"p":"NX","s":"Stepped sine","f":118,"m":-1.22},{"p":"NX","s":"Stepped sine","f":124,"m":-1.2},{"p":"NX","s":"Stepped sine","f":130,"m":-1.16},{"p":"NX","s":"Stepped sine","f":136,"m":-1.13},{"p":"NX","s":"Stepped sine","f":142,"m":-1.12},{"p":"NX","s":"Stepped sine","f":148,"m":-1.12},{"p":"NX","s":"Stepped sine","f":154,"m":-1.13},{"p":"NX","s":"Stepped sine","f":160,"m":-1.18},{"p":"NX","s":"Stepped sine","f":170,"m":-1.27},{"p":"NX","s":"Stepped sine","f":180,"m":-1.4},{"p":"NX","s":"Stepped sine","f":190,"m":-1.5},{"p":"NX","s":"Stepped sine","f":200,"m":-1.6},{"p":"NX","s":"Stepped sine","f":215,"m":-1.78},{"p":"NX","s":"Stepped sine","f":230,"m":-1.95},{"p":"NX","s":"Stepped sine","f":245,"m":-2.1},{"p":"NX","s":"Stepped sine","f":260,"m":-2.25},{"p":"NX","s":"Stepped sine","f":275,"m":-2.38},{"p":"NX","s":"Stepped sine","f":290,"m":-2.52},{"p":"NX","s":"Stepped sine","f":305,"m":-2.68},{"p":"NX","s":"Stepped sine","f":320,"m":-2.85},{"p":"NX","s":"Stepped sine","f":335,"m":-3.05},{"p":"NX","s":"Stepped sine","f":350,"m":-3.25},{"p":"NX","s":"Stepped sine","f":370,"m":-3.45},{"p":"NX","s":"Stepped sine","f":390,"m":-3.68},{"p":"NX","s":"Stepped sine","f":410,"m":-3.9},{"p":"NX","s":"Stepped sine","f":430,"m":-4.1},{"p":"NX","s":"Stepped sine","f":450,"m":-4.3},{"p":"NX","s":"Stepped sine","f":470,"m":-4.5},{"p":"NX","s":"Stepped sine","f":490,"m":-4.72},{"p":"NX","s":"Stepped sine","f":510,"m":-4.95},{"p":"NX","s":"Stepped sine","f":530,"m":-5.15},{"p":"NX","s":"Stepped sine","f":550,"m":-5.35},{"p":"NX","s":"Stepped sine","f":570,"m":-5.55},{"p":"NX","s":"Stepped sine","f":590,"m":-5.75},{"p":"NX","s":"Stepped sine","f":610,"m":-5.93},{"p":"NX","s":"Stepped sine","f":630,"m":-6.1},{"p":"NX","s":"Stepped sine","f":650,"m":-6.25},{"p":"NX","s":"Stepped sine","f":670,"m":-6.4},{"p":"NX","s":"Stepped sine","f":690,"m":-6.53},{"p":"NX","s":"Stepped sine","f":710,"m":-6.65},{"p":"NX","s":"Stepped sine","f":738,"m":-6.8},
{"p":"NY","s":"Stepped sine","f":1,"m":2.83},{"p":"NY","s":"Stepped sine","f":4,"m":4.18},{"p":"NY","s":"Stepped sine","f":7,"m":1.23},{"p":"NY","s":"Stepped sine","f":10,"m":-0.25},{"p":"NY","s":"Stepped sine","f":13,"m":3.73},{"p":"NY","s":"Stepped sine","f":16,"m":-1.43},{"p":"NY","s":"Stepped sine","f":19,"m":2.46},{"p":"NY","s":"Stepped sine","f":22,"m":1.67},{"p":"NY","s":"Stepped sine","f":25,"m":-1.43},{"p":"NY","s":"Stepped sine","f":28,"m":0.88},{"p":"NY","s":"Stepped sine","f":31,"m":-0.45},{"p":"NY","s":"Stepped sine","f":34,"m":-1.48},{"p":"NY","s":"Stepped sine","f":37,"m":0.02},{"p":"NY","s":"Stepped sine","f":40,"m":-1.97},{"p":"NY","s":"Stepped sine","f":43,"m":-1.1},{"p":"NY","s":"Stepped sine","f":46,"m":-1.45},{"p":"NY","s":"Stepped sine","f":49,"m":-2.58},{"p":"NY","s":"Stepped sine","f":52,"m":-1.3},{"p":"NY","s":"Stepped sine","f":55,"m":-2.15},{"p":"NY","s":"Stepped sine","f":58,"m":-2.05},{"p":"NY","s":"Stepped sine","f":61,"m":-2.95},{"p":"NY","s":"Stepped sine","f":64,"m":-2.8},{"p":"NY","s":"Stepped sine","f":67,"m":-3.3},{"p":"NY","s":"Stepped sine","f":70,"m":-3.15},{"p":"NY","s":"Stepped sine","f":73,"m":-3.45},{"p":"NY","s":"Stepped sine","f":76,"m":-3.2},{"p":"NY","s":"Stepped sine","f":79,"m":-3.6},{"p":"NY","s":"Stepped sine","f":82,"m":-3.35},{"p":"NY","s":"Stepped sine","f":85,"m":-3.8},{"p":"NY","s":"Stepped sine","f":88,"m":-4.3},{"p":"NY","s":"Stepped sine","f":91,"m":-2.0},{"p":"NY","s":"Stepped sine","f":94,"m":-1.5},{"p":"NY","s":"Stepped sine","f":97,"m":-3.4},{"p":"NY","s":"Stepped sine","f":100,"m":-3.3},{"p":"NY","s":"Stepped sine","f":103,"m":0.35},{"p":"NY","s":"Stepped sine","f":106,"m":-0.9},{"p":"NY","s":"Stepped sine","f":109,"m":-1.0},{"p":"NY","s":"Stepped sine","f":112,"m":-0.8},{"p":"NY","s":"Stepped sine","f":115,"m":-0.9},{"p":"NY","s":"Stepped sine","f":118,"m":-2.0},{"p":"NY","s":"Stepped sine","f":121,"m":0.2},{"p":"NY","s":"Stepped sine","f":124,"m":-2.3},{"p":"NY","s":"Stepped sine","f":127,"m":0.3},{"p":"NY","s":"Stepped sine","f":130,"m":-1.6},{"p":"NY","s":"Stepped sine","f":133,"m":0.4},{"p":"NY","s":"Stepped sine","f":136,"m":-2.0},{"p":"NY","s":"Stepped sine","f":139,"m":0.1},{"p":"NY","s":"Stepped sine","f":142,"m":-1.8},{"p":"NY","s":"Stepped sine","f":145,"m":0.35},{"p":"NY","s":"Stepped sine","f":148,"m":-1.4},{"p":"NY","s":"Stepped sine","f":151,"m":-1.2},{"p":"NY","s":"Stepped sine","f":160,"m":-1.3},{"p":"NY","s":"Stepped sine","f":170,"m":-1.4},{"p":"NY","s":"Stepped sine","f":180,"m":-1.48},{"p":"NY","s":"Stepped sine","f":190,"m":-1.5},{"p":"NY","s":"Stepped sine","f":200,"m":-1.5},{"p":"NY","s":"Stepped sine","f":210,"m":-1.47},{"p":"NY","s":"Stepped sine","f":220,"m":-1.5},{"p":"NY","s":"Stepped sine","f":230,"m":-1.65},{"p":"NY","s":"Stepped sine","f":240,"m":-1.85},{"p":"NY","s":"Stepped sine","f":255,"m":-2.0},{"p":"NY","s":"Stepped sine","f":270,"m":-2.08},{"p":"NY","s":"Stepped sine","f":285,"m":-2.12},{"p":"NY","s":"Stepped sine","f":300,"m":-2.2},{"p":"NY","s":"Stepped sine","f":320,"m":-2.4},{"p":"NY","s":"Stepped sine","f":340,"m":-2.7},{"p":"NY","s":"Stepped sine","f":360,"m":-3.0},{"p":"NY","s":"Stepped sine","f":380,"m":-3.3},{"p":"NY","s":"Stepped sine","f":400,"m":-3.6},{"p":"NY","s":"Stepped sine","f":420,"m":-3.85},{"p":"NY","s":"Stepped sine","f":440,"m":-4.1},{"p":"NY","s":"Stepped sine","f":460,"m":-4.35},{"p":"NY","s":"Stepped sine","f":480,"m":-4.55},{"p":"NY","s":"Stepped sine","f":500,"m":-4.75},{"p":"NY","s":"Stepped sine","f":520,"m":-4.95},{"p":"NY","s":"Stepped sine","f":540,"m":-5.1},{"p":"NY","s":"Stepped sine","f":560,"m":-5.3},{"p":"NY","s":"Stepped sine","f":580,"m":-5.45},{"p":"NY","s":"Stepped sine","f":600,"m":-5.65},{"p":"NY","s":"Stepped sine","f":620,"m":-5.85},{"p":"NY","s":"Stepped sine","f":640,"m":-6.05},{"p":"NY","s":"Stepped sine","f":660,"m":-6.25},{"p":"NY","s":"Stepped sine","f":680,"m":-6.45},{"p":"NY","s":"Stepped sine","f":700,"m":-6.6},{"p":"NY","s":"Stepped sine","f":730,"m":-6.8},
{"p":"Z","s":"Stepped sine","f":1,"m":3.64},{"p":"Z","s":"Stepped sine","f":4,"m":-1.57},{"p":"Z","s":"Stepped sine","f":7,"m":-3.42},{"p":"Z","s":"Stepped sine","f":10,"m":-1.79},{"p":"Z","s":"Stepped sine","f":13,"m":0.07},{"p":"Z","s":"Stepped sine","f":16,"m":-2.21},{"p":"Z","s":"Stepped sine","f":19,"m":-1.55},{"p":"Z","s":"Stepped sine","f":22,"m":-1.17},{"p":"Z","s":"Stepped sine","f":25,"m":-2.03},{"p":"Z","s":"Stepped sine","f":28,"m":-0.99},{"p":"Z","s":"Stepped sine","f":31,"m":-1.28},{"p":"Z","s":"Stepped sine","f":34,"m":-1.23},{"p":"Z","s":"Stepped sine","f":37,"m":-1.11},{"p":"Z","s":"Stepped sine","f":40,"m":-1.43},{"p":"Z","s":"Stepped sine","f":43,"m":-1.28},{"p":"Z","s":"Stepped sine","f":46,"m":-1.45},{"p":"Z","s":"Stepped sine","f":49,"m":-1.3},{"p":"Z","s":"Stepped sine","f":52,"m":-1.42},{"p":"Z","s":"Stepped sine","f":55,"m":-1.3},{"p":"Z","s":"Stepped sine","f":58,"m":-1.5},{"p":"Z","s":"Stepped sine","f":61,"m":-1.4},{"p":"Z","s":"Stepped sine","f":64,"m":-1.52},{"p":"Z","s":"Stepped sine","f":67,"m":-1.42},{"p":"Z","s":"Stepped sine","f":70,"m":-1.55},{"p":"Z","s":"Stepped sine","f":73,"m":-1.48},{"p":"Z","s":"Stepped sine","f":76,"m":-1.58},{"p":"Z","s":"Stepped sine","f":79,"m":-1.5},{"p":"Z","s":"Stepped sine","f":82,"m":-1.6},{"p":"Z","s":"Stepped sine","f":85,"m":-1.55},{"p":"Z","s":"Stepped sine","f":88,"m":-1.62},{"p":"Z","s":"Stepped sine","f":91,"m":-1.58},{"p":"Z","s":"Stepped sine","f":94,"m":-1.64},{"p":"Z","s":"Stepped sine","f":97,"m":-1.6},{"p":"Z","s":"Stepped sine","f":100,"m":-1.65},{"p":"Z","s":"Stepped sine","f":110,"m":-1.7},{"p":"Z","s":"Stepped sine","f":120,"m":-1.75},{"p":"Z","s":"Stepped sine","f":130,"m":-1.8},{"p":"Z","s":"Stepped sine","f":140,"m":-1.84},{"p":"Z","s":"Stepped sine","f":150,"m":-1.88},{"p":"Z","s":"Stepped sine","f":160,"m":-1.92},{"p":"Z","s":"Stepped sine","f":170,"m":-1.96},{"p":"Z","s":"Stepped sine","f":180,"m":-2.0},{"p":"Z","s":"Stepped sine","f":190,"m":-2.04},{"p":"Z","s":"Stepped sine","f":200,"m":-2.08},{"p":"Z","s":"Stepped sine","f":215,"m":-2.14},{"p":"Z","s":"Stepped sine","f":230,"m":-2.2},{"p":"Z","s":"Stepped sine","f":245,"m":-2.25},{"p":"Z","s":"Stepped sine","f":260,"m":-2.3},{"p":"Z","s":"Stepped sine","f":275,"m":-2.36},{"p":"Z","s":"Stepped sine","f":290,"m":-2.42},{"p":"Z","s":"Stepped sine","f":305,"m":-2.47},{"p":"Z","s":"Stepped sine","f":320,"m":-2.52},{"p":"Z","s":"Stepped sine","f":335,"m":-2.57},{"p":"Z","s":"Stepped sine","f":350,"m":-2.62},{"p":"Z","s":"Stepped sine","f":370,"m":-2.68},{"p":"Z","s":"Stepped sine","f":390,"m":-2.74},{"p":"Z","s":"Stepped sine","f":410,"m":-2.8},{"p":"Z","s":"Stepped sine","f":430,"m":-2.86},{"p":"Z","s":"Stepped sine","f":450,"m":-2.92},{"p":"Z","s":"Stepped sine","f":470,"m":-2.98},{"p":"Z","s":"Stepped sine","f":490,"m":-3.04},{"p":"Z","s":"Stepped sine","f":510,"m":-3.1},{"p":"Z","s":"Stepped sine","f":530,"m":-3.15},{"p":"Z","s":"Stepped sine","f":550,"m":-3.2},{"p":"Z","s":"Stepped sine","f":570,"m":-3.25},{"p":"Z","s":"Stepped sine","f":590,"m":-3.3},{"p":"Z","s":"Stepped sine","f":610,"m":-3.35},{"p":"Z","s":"Stepped sine","f":630,"m":-3.4},{"p":"Z","s":"Stepped sine","f":650,"m":-3.44},{"p":"Z","s":"Stepped sine","f":670,"m":-3.48},{"p":"Z","s":"Stepped sine","f":690,"m":-3.52},{"p":"Z","s":"Stepped sine","f":710,"m":-3.55},{"p":"Z","s":"Stepped sine","f":730,"m":-3.58},{"p":"Z","s":"Stepped sine","f":750,"m":-3.61},{"p":"Z","s":"Stepped sine","f":774,"m":-3.64}
]},
"facet": {"field": "p", "type": "nominal", "sort": ["DX","DY","NX","NY","Z"],
  "header": {"title": null, "labelFont": "Liberation Sans", "labelFontSize": 20, "labelFontWeight": "bold", "labelColor": "#000000", "labelPadding": 1}},
"columns": 3,
"spacing": {"row": 15, "column": 26},
"resolve": {"axis": {"x": "independent", "y": "independent"}},
"spec": {
  "width": 323,
  "height": 271,
  "encoding": {
    "x": {"field": "f", "type": "quantitative",
      "scale": {"type": "log", "domain": [1, 800], "nice": false},
      "axis": {"title": "Frequency(Hz)",
        "values": [1,2,3,4,5,6,7,8,9,10,20,30,40,50,60,70,80,90,100,200,300,400,500,600,700,800],
        "labelExpr": "datum.value == 1 ? '10⁰' : datum.value == 10 ? '10¹' : datum.value == 100 ? '10²' : ''",
        "labelOverlap": false, "labelFlush": false, "labelBound": false,
        "labelPadding": 14, "titlePadding": 6,
        "gridDash": {"condition": {"test": "datum.value == 1 || datum.value == 10 || datum.value == 100", "value": []}, "value": [1.5, 3]},
        "gridColor": {"condition": {"test": "datum.value == 1 || datum.value == 10 || datum.value == 100", "value": "#d9d9d9"}, "value": "#b8b8b8"},
        "tickSize": {"condition": {"test": "datum.value == 1 || datum.value == 10 || datum.value == 100", "value": -5}, "value": -3}
      }},
    "y": {"field": "m", "type": "quantitative",
      "scale": {"domain": [-10, 10], "nice": false},
      "axis": {"title": "Magnitude(dB)", "values": [-10,-5,0,5,10], "labelExpr": "'' + datum.value", "labelPadding": 13, "titlePadding": 10, "tickSize": -5}},
    "color": {"field": "s", "type": "nominal",
      "scale": {"domain": ["PRBS", "Stepped sine"], "range": ["#00ff00", "#ff0000"]},
      "legend": {"title": null, "orient": "none", "legendX": 894, "legendY": 484,
        "labelFont": "Liberation Sans", "labelFontSize": 19, "labelColor": "#000000",
        "strokeColor": "#262626", "fillColor": "#ffffff", "padding": 6,
        "symbolType": "M-10,0H10M-0.35,0a0.35,0.35 0 1,0 0.7,0a0.35,0.35 0 1,0 -0.7,0", "symbolSize": 44, "symbolStrokeWidth": 1.6,
        "symbolOffset": 26, "labelOffset": 31, "rowPadding": 0}}
  },
  "layer": [
    {"transform": [{"filter": "datum.s == 'PRBS'"}],
     "mark": {"type": "line", "strokeWidth": 1.5, "point": {"filled": true, "size": 9}}},
    {"transform": [{"filter": "datum.s == 'Stepped sine'"}],
     "mark": {"type": "line", "strokeWidth": 1.6, "point": {"filled": true, "size": 26}}}
  ]
},
"config": {
  "font": "Liberation Sans",
  "view": {"stroke": "#262626", "strokeWidth": 1.5},
  "axis": {"labelFont": "Liberation Sans", "labelFontSize": 20, "labelColor": "#262626",
    "titleFont": "Liberation Sans", "titleFontSize": 21, "titleFontWeight": "normal", "titleColor": "#262626",
    "domain": false, "tickColor": "#262626", "gridColor": "#d9d9d9", "gridWidth": 1.2}
}
}
